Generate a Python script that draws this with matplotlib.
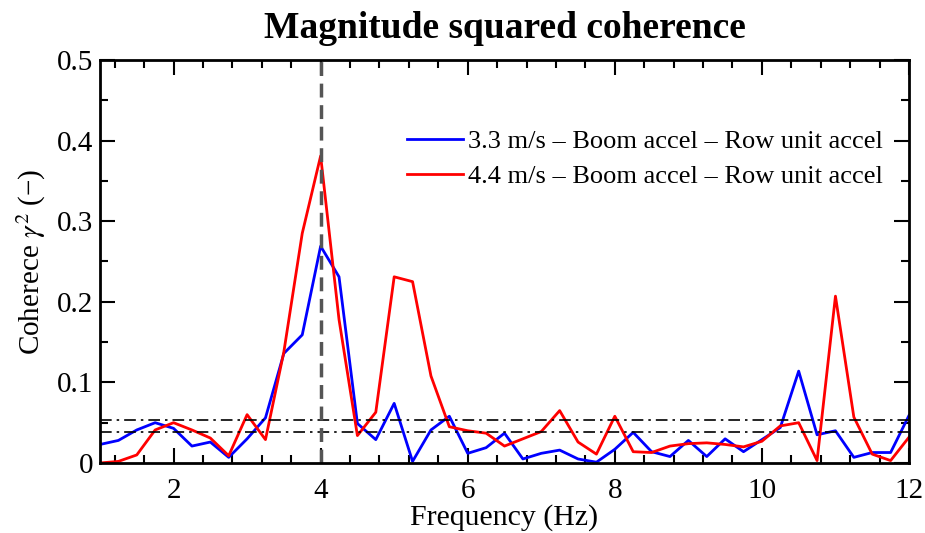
import numpy as np
import matplotlib
matplotlib.use("Agg")
import matplotlib.pyplot as plt
from matplotlib.ticker import MultipleLocator

plt.rcParams['font.family'] = ['Liberation Serif', 'DejaVu Serif']
plt.rcParams['mathtext.fontset'] = 'stix'

# frequency grid (Hz), 0.25 Hz steps from 1 to 12
freq = np.arange(1.0, 12.01, 0.25)

coh_33 = [0.023, 0.028, 0.041, 0.050, 0.043, 0.021, 0.026, 0.007, 0.030, 0.056,
          0.136, 0.159, 0.269, 0.231, 0.049, 0.029, 0.074, 0.002, 0.041, 0.058,
          0.012, 0.019, 0.037, 0.005, 0.012, 0.016, 0.005, 0.001, 0.017, 0.038,
          0.014, 0.008, 0.028, 0.008, 0.030, 0.014, 0.029, 0.044, 0.114, 0.035,
          0.040, 0.007, 0.013, 0.013, 0.059]
coh_44 = [0.000, 0.002, 0.010, 0.041, 0.050, 0.041, 0.031, 0.009, 0.060, 0.029,
          0.138, 0.285, 0.381, 0.178, 0.034, 0.063, 0.231, 0.225, 0.108, 0.045,
          0.040, 0.037, 0.021, 0.030, 0.039, 0.065, 0.026, 0.011, 0.058, 0.014,
          0.013, 0.021, 0.024, 0.025, 0.023, 0.020, 0.027, 0.046, 0.050, 0.003,
          0.207, 0.057, 0.011, 0.003, 0.032]

labels = ['3.3 m/s \u2013 Boom accel \u2013 Row unit accel',
          '4.4 m/s \u2013 Boom accel \u2013 Row unit accel']
thresholds = [0.0537, 0.039]
f_marker = 4.0

fig = plt.figure(figsize=(9.25, 5.33), dpi=100)
ax = fig.add_axes([100/925, 1 - 463/533, 809/925, 403/533])

ax.plot(freq, coh_33, color='#0000ff', lw=2.0, label=labels[0])
ax.plot(freq, coh_44, color='#ff0000', lw=2.0, label=labels[1])

for th in thresholds:
    ax.axhline(th, color='black', lw=1.2, dashes=(7, 3, 1.5, 3))
ax.axvline(f_marker, color='#555555', lw=2.5, dashes=(4, 2.2))

ax.set_xlim(1, 12)
ax.set_ylim(0, 0.5)
ax.xaxis.set_major_locator(MultipleLocator(2))
ax.xaxis.set_minor_locator(MultipleLocator(0.4))
ax.yaxis.set_minor_locator(MultipleLocator(0.05))
ax.set_yticks([0, 0.1, 0.2, 0.3, 0.4, 0.5])
ax.set_yticklabels(['0', '0.1', '0.2', '0.3', '0.4', '0.5'])
ax.tick_params(which='both', direction='in', top=True, right=True, width=1.5, labelsize=21)
ax.tick_params(which='major', length=11)
ax.tick_params(which='minor', length=5.5)
ax.tick_params(axis='x', pad=11)
ax.tick_params(axis='y', pad=5)
for s in ax.spines.values():
    s.set_linewidth(2)

ax.set_title('Magnitude squared coherence', fontsize=27, fontweight='bold', pad=16)
ax.set_xlabel('Frequency (Hz)', fontsize=21.5, labelpad=0)
ax.set_ylabel('Coherece $\\gamma^2$ (\u2212)', fontsize=21, labelpad=6)

ax.legend(loc='upper right', bbox_to_anchor=(0.997, 0.887), frameon=False, fontsize=19,
          handlelength=2.1, handletextpad=0.2, labelspacing=0.45)

fig.savefig('out.png', dpi=100)
